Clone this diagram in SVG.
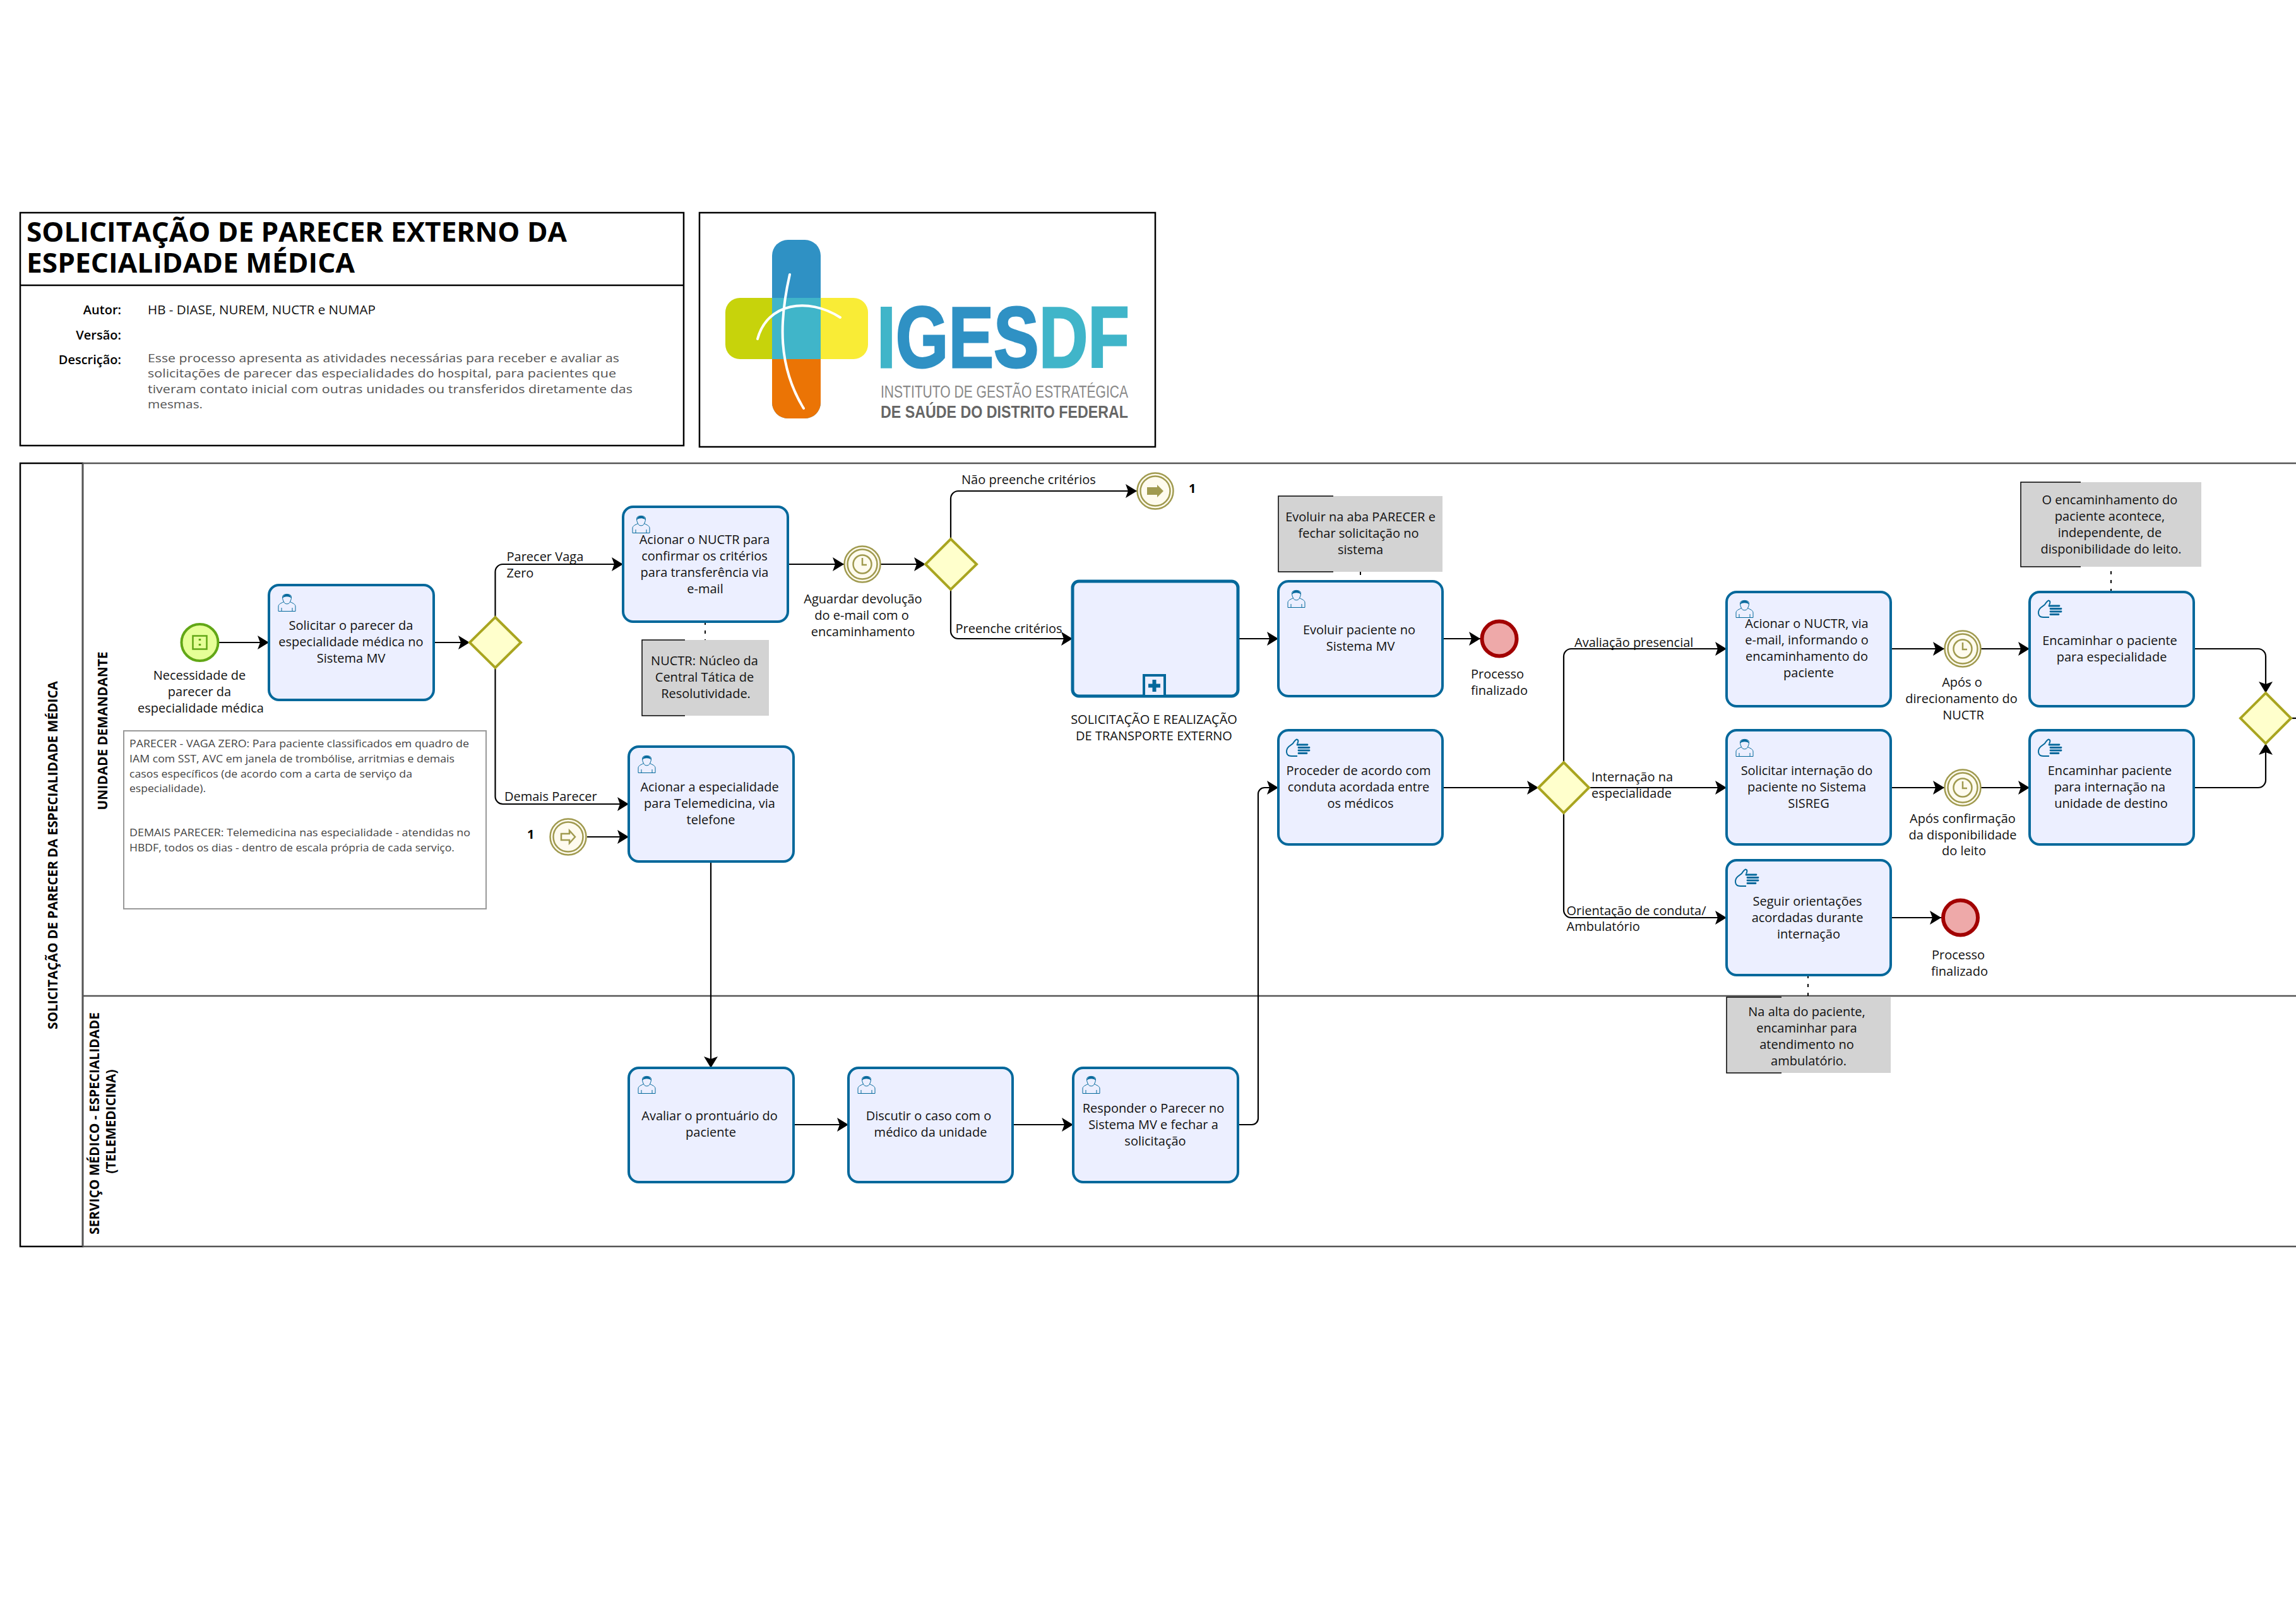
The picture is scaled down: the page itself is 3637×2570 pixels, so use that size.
<svg xmlns="http://www.w3.org/2000/svg" width="3637" height="2570" viewBox="0 0 3637 2570">
<style>
text{font-family:"Open Sans","Noto Sans","Liberation Sans",sans-serif;fill:#111}
.c{font-size:20px;text-anchor:middle}
.l{font-size:20px}
.b{font-weight:700;font-size:21px;text-anchor:middle;fill:#000}
.h{font-weight:600;font-size:20px;text-anchor:end;fill:#000}
.d{font-size:17.5px;fill:#555}
.n{font-size:16px;fill:#444}
.task{fill:#ECEFFF;stroke:#03689B;stroke-width:4}
.gw{fill:#FFFFCC;stroke:#A9A520;stroke-width:4}
.end{fill:#EEA9A9;stroke:#A20000;stroke-width:6}
.note{fill:#D3D3D3}
.br{fill:none;stroke:#000;stroke-width:1.5}
.frame{fill:#fff;stroke:#000;stroke-width:2.5}
.lane{fill:none;stroke:#555;stroke-width:2.5}
.cn{fill:none;stroke:#000;stroke-width:2.2;marker-end:url(#arr)}
.dot{fill:none;stroke:#000;stroke-width:2;stroke-dasharray:5 9}
.ev{fill:#FEFBEE;stroke:#A09A4F}
.logo{font-family:"Liberation Sans",sans-serif}
.ttl{font-size:43px;font-weight:700;fill:#000}
.num{font-size:20px;font-weight:700;fill:#000}
</style>
<defs>
<marker id="arr" markerUnits="userSpaceOnUse" markerWidth="20" markerHeight="24" refX="18" refY="11" orient="auto"><path d="M0 0L18 11L0 22L4 11z" fill="#000"/></marker>
<g id="user"><path d="M1 27.500V20C1 16 5 15 9.500 12.500C7.500 9 7 5 8 3C10 -.5 19 -.5 21 3C22 5 21.500 9 19.500 12.500C24 15 28 16 28 20V27.500ZM9.500 12.500C11 17 18 17 19.500 12.500M6 27.500V22M23 27.500V22" fill="none" stroke="#03689B" stroke-width="1"/><path d="M8 6.500C8 -1.500 21 -1.500 21 6.500C18 3.500 11 3.500 8 6.500Z" fill="#03689B"/></g>
<g id="hand"><path d="M18 7.500C20 4 20 1 17 .5C15 1 13 4 11 7L4.500 12C1 15 0 20 2 24C4 27.500 9 27 18 27" fill="none" stroke="#03689B" stroke-width="2"/><path d="M18 9H34M20 13.500H37M20 18H37M20 22.500H33" fill="none" stroke="#03689B" stroke-width="2.800" stroke-linecap="round"/></g>
<g id="timer"><circle r="28.500" class="ev" stroke-width="2.500"/><circle r="23.500" class="ev" stroke-width="2.500"/><circle r="14.500" class="ev" stroke-width="2.500"/><path d="M0 -10V1H7" fill="none" stroke="#A09A4F" stroke-width="2.500"/></g>
<g id="ring"><circle r="28.500" class="ev" stroke-width="2.500"/><circle r="23.500" class="ev" stroke-width="2.500"/></g>
</defs>
<rect width="3637" height="2570" fill="#fff"/>

<g id="header">
<rect class="frame" x="32" y="337" width="1051" height="369"/>
<path d="M32 452H1083" stroke="#000" stroke-width="2.500"/>
<text class="ttl" x="42" y="383" textLength="856" lengthAdjust="spacingAndGlyphs">SOLICITAÇÃO DE PARECER EXTERNO DA</text>
<text class="ttl" x="42" y="432" textLength="520" lengthAdjust="spacingAndGlyphs">ESPECIALIDADE MÉDICA</text>
<text class="h" x="192" y="498">Autor:</text>
<text class="h" x="192" y="538">Versão:</text>
<text class="h" x="192" y="577">Descrição:</text>
<text class="l" x="234" y="498" textLength="361" lengthAdjust="spacingAndGlyphs">HB - DIASE, NUREM, NUCTR e NUMAP</text>
<text class="d" x="234" y="574" textLength="747" lengthAdjust="spacingAndGlyphs">Esse processo apresenta as atividades necessárias para receber e avaliar as</text>
<text class="d" x="234" y="598" textLength="742" lengthAdjust="spacingAndGlyphs">solicitações de parecer das especialidades do hospital, para pacientes que</text>
<text class="d" x="234" y="623" textLength="768" lengthAdjust="spacingAndGlyphs">tiveram contato inicial com outras unidades ou transferidos diretamente das</text>
<text class="d" x="234" y="647" textLength="87" lengthAdjust="spacingAndGlyphs">mesmas.</text>
</g>

<g id="logo">
<rect class="frame" x="1108" y="337" width="722" height="371"/>
<rect x="1223" y="380" width="77" height="283" rx="25" fill="#2F91C4"/>
<path d="M1223 569H1300V638a25 25 0 0 1-25 25H1248a25 25 0 0 1-25-25Z" fill="#EB7405"/>
<path d="M1223 472H1172a23 23 0 0 0-23 23V546a23 23 0 0 0 23 23H1223Z" fill="#C7D30B"/>
<path d="M1300 472H1352a23 23 0 0 1 23 23V546a23 23 0 0 1-23 23H1300Z" fill="#F9EC36"/>
<rect x="1223" y="472" width="77" height="97" fill="#40B5C9"/>
<path d="M1251 435C1234 510 1232 580 1273 647M1200 537C1215 480 1280 470 1331 503" fill="none" stroke="#fff" stroke-width="4" stroke-linecap="round"/>
<text class="logo" x="1389" y="582" textLength="400" lengthAdjust="spacingAndGlyphs" style="font-weight:700;font-size:137px;stroke-width:3"><tspan style="fill:#40B5C9;stroke:#40B5C9">I</tspan><tspan style="fill:#2F91C4;stroke:#2F91C4">GES</tspan><tspan style="fill:#40B5C9;stroke:#40B5C9">DF</tspan></text>
<text class="logo" x="1395" y="630" textLength="392" lengthAdjust="spacingAndGlyphs" style="font-size:27px;fill:#888">INSTITUTO DE GESTÃO ESTRATÉGICA</text>
<text class="logo" x="1395" y="662" textLength="392" lengthAdjust="spacingAndGlyphs" style="font-weight:700;font-size:27px;fill:#666">DE SAÚDE DO DISTRITO FEDERAL</text>
</g>

<g id="pool">
<rect x="32" y="734" width="99" height="1241" fill="#fff" stroke="#000" stroke-width="2.500"/>
<path class="lane" d="M131 734H3637M131 1578H3637M131 1975H3637M131 734V1975"/>
<text class="b" transform="translate(90.500 1355) rotate(-90)" textLength="552" lengthAdjust="spacingAndGlyphs">SOLICITAÇÃO DE PARECER DA ESPECIALIDADE MÉDICA</text>
<text class="b" transform="translate(170 1158) rotate(-90)" textLength="251" lengthAdjust="spacingAndGlyphs">UNIDADE DEMANDANTE</text>
<text class="b" transform="translate(157 1780) rotate(-90)" textLength="352" lengthAdjust="spacingAndGlyphs">SERVIÇO MÉDICO - ESPECIALIDADE</text>
<text class="b" transform="translate(183 1777) rotate(-90)" textLength="165" lengthAdjust="spacingAndGlyphs">(TELEMEDICINA)</text>
</g>

<g id="connectors">
<path class="cn" d="M346 1018H426"/>
<path class="cn" d="M687 1018H744"/>
<path class="cn" d="M784.500 978V906a12 12 0 0 1 12-12H987"/>
<path class="cn" d="M784.500 1058V1262a12 12 0 0 0 12 12H996"/>
<path class="cn" d="M930 1326H996"/>
<path class="cn" d="M1248 894H1337"/>
<path class="cn" d="M1395 894H1466"/>
<path class="cn" d="M1506 854V790a12 12 0 0 1 12-12H1801"/>
<path class="cn" d="M1506 934V1000a12 12 0 0 0 12 12H1699"/>
<path class="cn" d="M1961 1012H2025"/>
<path class="cn" d="M2285 1012H2345"/>
<path class="cn" d="M1126 1365V1692"/>
<path class="cn" d="M1257 1782H1344"/>
<path class="cn" d="M1604 1782H1700"/>
<path class="cn" d="M1961 1782H1983a10 10 0 0 0 10-10V1258a10 10 0 0 1 10-10H2025"/>
<path class="cn" d="M2285 1248H2437"/>
<path class="cn" d="M2477 1208V1040a12 12 0 0 1 12-12H2735"/>
<path class="cn" d="M2517 1248H2735"/>
<path class="cn" d="M2477 1288V1442a12 12 0 0 0 12 12H2735"/>
<path class="cn" d="M2995 1028H3080"/>
<path class="cn" d="M3138 1028H3215"/>
<path class="cn" d="M2995 1248H3080"/>
<path class="cn" d="M3138 1248H3215"/>
<path class="cn" d="M3475 1028H3577a12 12 0 0 1 12 12V1098"/>
<path class="cn" d="M3475 1248H3577a12 12 0 0 0 12-12V1178"/>
<path d="M3629 1138H3637" fill="none" stroke="#000" stroke-width="2.200"/>
<path class="cn" d="M2995 1454H3075"/>
<path class="dot" d="M1117 985V1014"/>
<path class="dot" d="M2155 906V921"/>
<path class="dot" d="M3344 905V938"/>
<path class="dot" d="M2864 1545V1578"/>
<text class="l" x="802.500" y="889">Parecer Vaga</text>
<text class="l" x="802.500" y="915">Zero</text>
<text class="l" x="799" y="1269">Demais Parecer</text>
<text class="l" x="1523" y="767">Não preenche critérios</text>
<text class="l" x="1513.500" y="1003">Preenche critérios</text>
<text class="l" x="2494" y="1025">Avaliação presencial</text>
<text class="l" x="2521" y="1238">Internação na</text>
<text class="l" x="2521" y="1264">especialidade</text>
<text class="l" x="2481.500" y="1449.500">Orientação de conduta/</text>
<text class="l" x="2481.500" y="1475">Ambulatório</text>
</g>

<g id="start">
<circle cx="316.500" cy="1018" r="29" fill="#E6FF97" stroke="#62A716" stroke-width="4"/>
<rect x="305.500" y="1007.500" width="22" height="21" fill="#E6FF97" stroke="#62A716" stroke-width="2.500"/>
<path d="M316.500 1012v3M316.500 1020v3" stroke="#62A716" stroke-width="3.500" fill="none"/>
<text class="c" x="316" y="1077">Necessidade de</text><text class="c" x="316" y="1103">parecer da</text><text class="c" x="318" y="1129">especialidade médica</text>
</g>

<g id="nota-criterios">
<rect x="196" y="1158" width="574" height="282" fill="#fff" stroke="#999" stroke-width="2"/>
<text class="n" x="205" y="1184" textLength="538" lengthAdjust="spacingAndGlyphs">PARECER - VAGA ZERO: Para paciente classificados em quadro de</text>
<text class="n" x="205" y="1208" textLength="515" lengthAdjust="spacingAndGlyphs">IAM com SST, AVC em janela de trombólise, arritmias e demais</text>
<text class="n" x="205" y="1232" textLength="448" lengthAdjust="spacingAndGlyphs">casos específicos (de acordo com a carta de serviço da</text>
<text class="n" x="205" y="1255" textLength="121" lengthAdjust="spacingAndGlyphs">especialidade).</text>
<text class="n" x="205" y="1325" textLength="540" lengthAdjust="spacingAndGlyphs">DEMAIS PARECER: Telemedicina nas especialidade - atendidas no</text>
<text class="n" x="205" y="1349" textLength="515" lengthAdjust="spacingAndGlyphs">HBDF, todos os dias - dentro de escala própria de cada serviço.</text>
</g>

<g id="t-solicitar"><rect class="task" x="426" y="927" width="261" height="182" rx="16"/><use href="#user" x="440" y="941"/><text class="c" x="556" y="998">Solicitar o parecer da</text><text class="c" x="556" y="1024">especialidade médica no</text><text class="c" x="556" y="1050">Sistema MV</text></g>
<g id="gw1"><path class="gw" d="M784.500 978L825 1018L784.500 1058L744 1018Z"/></g>
<g id="t-nuctr"><rect class="task" x="987" y="803" width="261" height="182" rx="16"/><use href="#user" x="1001" y="817"/><text class="c" x="1116" y="862">Acionar o NUCTR para</text><text class="c" x="1116" y="888">confirmar os critérios</text><text class="c" x="1116" y="914">para transferência via</text><text class="c" x="1117" y="940">e-mail</text></g>
<g id="n-nuctr"><rect class="note" x="1017" y="1014" width="201" height="120"/><path class="br" d="M1085 1014H1017V1134H1085"/><text class="c" x="1116" y="1054">NUCTR: Núcleo da</text><text class="c" x="1116" y="1080">Central Tática de</text><text class="c" x="1118" y="1106">Resolutividade.</text></g>
<g id="e-timer1"><use href="#timer" x="1366" y="894"/><text class="c" x="1367" y="956">Aguardar devolução</text><text class="c" x="1365" y="982">do e-mail com o</text><text class="c" x="1367" y="1008">encaminhamento</text></g>
<g id="gw2"><path class="gw" d="M1506 854L1547 894L1506 934L1466 894Z"/></g>
<g id="e-link-out"><use href="#ring" x="1830" y="778"/><path d="M1817 772H1833V768L1843 778L1833 788V784H1817Z" fill="#A09A4F"/><text class="num" x="1883" y="781">1</text></g>
<g id="sub"><rect class="task" x="1699" y="921" width="262" height="182" rx="10" style="stroke-width:5"/><rect x="1812" y="1070" width="33" height="33" fill="#ECEFFF" stroke="#03689B" stroke-width="4"/><path d="M1828.500 1077V1096M1819 1086.500H1838" stroke="#03689B" stroke-width="6" fill="none"/><text class="c" x="1828" y="1147">SOLICITAÇÃO E REALIZAÇÃO</text><text class="c" x="1828" y="1173">DE TRANSPORTE EXTERNO</text></g>
<g id="t-evoluir"><rect class="task" x="2025" y="921" width="260" height="182" rx="16"/><use href="#user" x="2039" y="935"/><text class="c" x="2153" y="1005">Evoluir paciente no</text><text class="c" x="2155" y="1031">Sistema MV</text></g>
<g id="n-evoluir"><rect class="note" x="2025" y="786" width="260" height="120"/><path class="br" d="M2112 786H2025V906H2112"/><text class="c" x="2155" y="826">Evoluir na aba PARECER e</text><text class="c" x="2152" y="852">fechar solicitação no</text><text class="c" x="2155" y="878">sistema</text></g>
<g id="e-end1"><circle class="end" cx="2375" cy="1012" r="27.500"/><text class="c" x="2372" y="1075">Processo</text><text class="c" x="2375" y="1101">finalizado</text></g>
<g id="t-telefone"><rect class="task" x="996" y="1183" width="261" height="182" rx="16"/><use href="#user" x="1010" y="1197"/><text class="c" x="1124" y="1254">Acionar a especialidade</text><text class="c" x="1124" y="1280">para Telemedicina, via</text><text class="c" x="1126" y="1306">telefone</text></g>
<g id="e-link-in"><use href="#ring" x="900" y="1326"/><path d="M889 1321H902V1316L911 1326L902 1336V1331H889Z" fill="#FEFBEE" stroke="#A09A4F" stroke-width="2.500"/><text class="num" x="835" y="1329">1</text></g>
<g id="t-proceder"><rect class="task" x="2025" y="1157" width="260" height="181" rx="16"/><use href="#hand" x="2037" y="1171"/><text class="c" x="2152" y="1228">Proceder de acordo com</text><text class="c" x="2152" y="1254">conduta acordada entre</text><text class="c" x="2155" y="1280">os médicos</text></g>
<g id="gw3"><path class="gw" d="M2477 1208L2517 1248L2477 1288L2437 1248Z"/></g>
<g id="t-acionar2"><rect class="task" x="2735" y="938" width="260" height="181" rx="16"/><use href="#user" x="2749" y="951"/><text class="c" x="2862" y="995">Acionar o NUCTR, via</text><text class="c" x="2862" y="1021">e-mail, informando o</text><text class="c" x="2862" y="1047">encaminhamento do</text><text class="c" x="2865" y="1073">paciente</text></g>
<g id="t-internacao"><rect class="task" x="2735" y="1157" width="260" height="181" rx="16"/><use href="#user" x="2749" y="1171"/><text class="c" x="2862" y="1228">Solicitar internação do</text><text class="c" x="2862" y="1254">paciente no Sistema</text><text class="c" x="2865" y="1280">SISREG</text></g>
<g id="t-seguir"><rect class="task" x="2735" y="1363" width="260" height="182" rx="16"/><use href="#hand" x="2748" y="1377"/><text class="c" x="2863" y="1435">Seguir orientações</text><text class="c" x="2863" y="1461">acordadas durante</text><text class="c" x="2865" y="1487">internação</text></g>
<g id="n-seguir"><rect class="note" x="2735" y="1580" width="260" height="120"/><path class="br" d="M2822 1580H2735V1700H2822"/><text class="c" x="2862" y="1609.500">Na alta do paciente,</text><text class="c" x="2862" y="1635.500">encaminhar para</text><text class="c" x="2862" y="1661.500">atendimento no</text><text class="c" x="2865" y="1687.500">ambulatório.</text></g>
<g id="e-end2"><circle class="end" cx="3105.500" cy="1454" r="27.500"/><text class="c" x="3102" y="1520">Processo</text><text class="c" x="3104" y="1546">finalizado</text></g>
<g id="e-timer2"><use href="#timer" x="3109" y="1028"/><text class="c" x="3108" y="1088">Após o</text><text class="c" x="3107" y="1114">direcionamento do</text><text class="c" x="3110" y="1140">NUCTR</text></g>
<g id="e-timer3"><use href="#timer" x="3109" y="1248"/><text class="c" x="3109" y="1303.500">Após confirmação</text><text class="c" x="3109" y="1329.500">da disponibilidade</text><text class="c" x="3111" y="1355">do leito</text></g>
<g id="t-enc1"><rect class="task" x="3215" y="938" width="260" height="181" rx="16"/><use href="#hand" x="3228" y="951"/><text class="c" x="3342" y="1021.500">Encaminhar o paciente</text><text class="c" x="3345" y="1047.500">para especialidade</text></g>
<g id="n-enc"><rect class="note" x="3201" y="764" width="286" height="134"/><path class="br" d="M3296 764H3201V898H3296"/><text class="c" x="3342" y="798.500">O encaminhamento do</text><text class="c" x="3342" y="824.500">paciente acontece,</text><text class="c" x="3342" y="850.500">independente, de</text><text class="c" x="3344" y="876.500">disponibilidade do leito.</text></g>
<g id="t-enc2"><rect class="task" x="3215" y="1157" width="260" height="181" rx="16"/><use href="#hand" x="3228" y="1171"/><text class="c" x="3342" y="1228">Encaminhar paciente</text><text class="c" x="3342" y="1254">para internação na</text><text class="c" x="3344" y="1280">unidade de destino</text></g>
<g id="gw4"><path class="gw" d="M3589 1098L3629 1138L3589 1178L3549 1138Z"/></g>
<g id="t-avaliar"><rect class="task" x="996" y="1692" width="261" height="181" rx="16"/><use href="#user" x="1010" y="1705"/><text class="c" x="1124" y="1775">Avaliar o prontuário do</text><text class="c" x="1126" y="1801">paciente</text></g>
<g id="t-discutir"><rect class="task" x="1344" y="1692" width="260" height="181" rx="16"/><use href="#user" x="1358" y="1705"/><text class="c" x="1471" y="1775">Discutir o caso com o</text><text class="c" x="1474" y="1801">médico da unidade</text></g>
<g id="t-responder"><rect class="task" x="1700" y="1692" width="261" height="181" rx="16"/><use href="#user" x="1714" y="1705"/><text class="c" x="1827" y="1763">Responder o Parecer no</text><text class="c" x="1827" y="1789">Sistema MV e fechar a</text><text class="c" x="1830" y="1815">solicitação</text></g>
</svg>
